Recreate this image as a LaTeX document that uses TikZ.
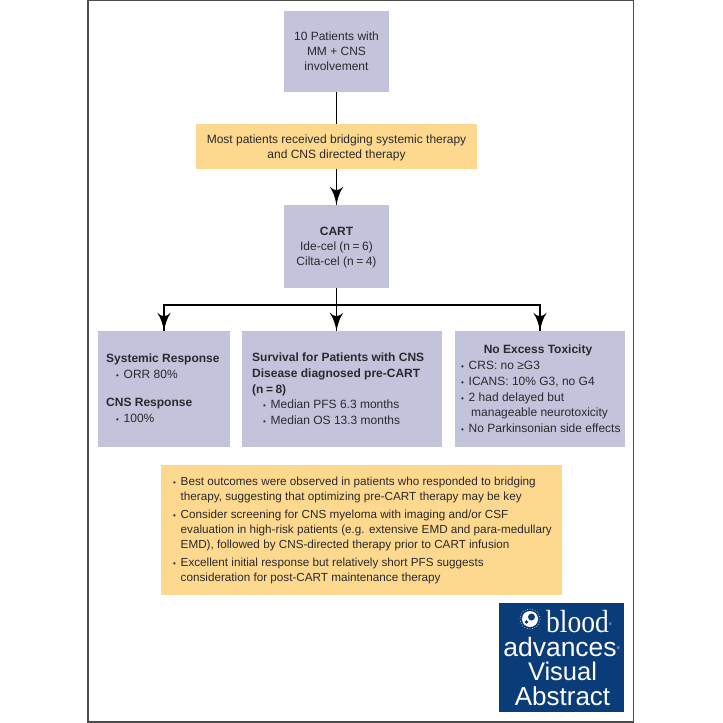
\documentclass[tikz,border=0pt]{standalone}
\usepackage{fontspec}
\setmainfont{Liberation Sans}
\newfontfamily\logoserif{Liberation Serif}
\usetikzlibrary{arrows}
\usetikzlibrary{decorations.markings}
\tikzset{->/.style = {decoration={markings,
                                  mark=at position 1 with {\arrow[scale=2.2]{latex'}}},
                      postaction={decorate}}}
\tikzset{lilacbox/.style = {fill=mblilac, text=mbtext, inner sep=0, align=center}}
\tikzset{goldbox/.style = {fill=mbgold, text=mbtext, inner sep=0, align=center}}
\tikzset{boxtext/.style = {text=mbtext, inner sep=0, align=left, anchor=north west}}
\tikzset{logotext/.style = {text=white, inner sep=0}}
\definecolor{mblilac}{rgb}{0.765, 0.769, 0.859}
\definecolor{mbgold}{rgb}{0.992, 0.851, 0.561}
\definecolor{mbtext}{rgb}{0.16, 0.16, 0.18}
\definecolor{mbblue}{rgb}{0.043, 0.235, 0.478}
\newcommand{\mbfont}{\fontsize{12}{15}\selectfont}
\newcommand{\bul}{\makebox[7.5pt][l]{\fontsize{8}{8}\selectfont\textbullet}}
\newcommand{\reg}{\raisebox{7pt}{\fontsize{4}{4}\selectfont\textregistered}}
\newcommand{\eqgap}{\hspace{2.5pt}=\hspace{2.5pt}}
\begin{document}
\begin{tikzpicture}[x=1pt, y=-1pt, font=\mbfont]
      \useasboundingbox (0, 0) rectangle (723, 723);
      \draw [line width=1.2, black!70] (88, 0.5) rectangle (633.5, 722);

      \node [lilacbox, minimum width=105, minimum height=81] (patients) at (336.5, 51.5)
        {10 Patients with\\MM + CNS\\involvement};
      \node [goldbox, minimum width=281, minimum height=45] (bridging) at (336.5, 146.5)
        {\rule{0pt}{11pt}Most patients received bridging systemic therapy\\and CNS directed therapy};
      \node [lilacbox, minimum width=105, minimum height=83] (cart) at (336.5, 246.5)
        {\rule{0pt}{10pt}\textbf{CART}\\Ide-cel (n\eqgap 6)\\Cilta-cel (n\eqgap 4)};

      \node [lilacbox, minimum width=132, minimum height=116] (systemic) at (164, 389) {};
      \node [lilacbox, minimum width=200, minimum height=116] (survival) at (342, 389) {};
      \node [lilacbox, minimum width=170, minimum height=116] (toxicity) at (540, 389) {};
      \node [goldbox, minimum width=401, minimum height=130] (outcomes) at (361.5, 530) {};
      \node [fill=mbblue, minimum width=125, minimum height=109, inner sep=0] (logo) at (561.5, 657.5) {};

      \draw [line width=1.8] (patients) -- (bridging);
      \draw [line width=1.8, ->] (bridging) -- (cart);

      \coordinate (split) at (cart.south |- 0, 305);
      \draw [line width=1.8] (cart) -- (split);
      \draw [line width=1.8, ->] (split) -- (split |- survival.north);
      \draw [line width=1.8, ->] (split) -| (systemic);
      \draw [line width=1.8, ->] (split) -| (toxicity);

      \node [boxtext, font=\fontsize{12}{16}\selectfont] (systemictext) at (106, 354)
        {\textbf{Systemic Response}\\
         \hspace{10pt}\bul ORR 80\%\\[12pt]
         \textbf{CNS Response}\\
         \hspace{10pt}\bul 100\%};
      \node [boxtext, font=\fontsize{12}{15.6}\selectfont] (survivaltext) at (252, 353)
        {\textbf{Survival for Patients with CNS}\\
         \textbf{Disease diagnosed pre-CART}\\
         \textbf{(n\eqgap 8)}\\
         \hspace{11pt}\bul Median PFS 6.3 months\\
         \hspace{11pt}\bul Median OS 13.3 months};
      \node [text=mbtext, inner sep=0] (toxicityhead) at (538, 350) {\textbf{No Excess Toxicity}};
      \node [boxtext, font=\fontsize{12}{15.8}\selectfont] (toxicitytext) at (461, 361)
        {\bul CRS: no ≥G3\\
         \bul ICANS: 10\% G3, no G4\\
         \bul 2 had delayed but\\
         \hspace{10pt}manageable neurotoxicity\\
         \bul No Parkinsonian side effects};
      \node [boxtext, font=\fontsize{11.7}{15.2}\selectfont] (outcomestext) at (173, 477)
        {\bul Best outcomes were observed in patients who responded to bridging\\
         \hspace{7.5pt}therapy, suggesting that optimizing pre-CART therapy may be key\\[2.5pt]
         \bul Consider screening for CNS myeloma with imaging and/or CSF\\
         \hspace{7.5pt}evaluation in high-risk patients (e.g. extensive EMD and para-medullary\\
         \hspace{7.5pt}EMD), followed by CNS-directed therapy prior to CART infusion\\[2.5pt]
         \bul Excellent initial response but relatively short PFS suggests\\
         \hspace{7.5pt}consideration for post-CART maintenance therapy};

      \fill [white] (530, 619) circle [radius=8];
      \fill [mbblue] (531.5, 617) circle [radius=3.5];
      \fill [mbblue] (526.5, 622) circle [radius=1.8];
      \draw [white, line width=0.6, dotted] (530, 619) circle [radius=10];
      \node [logotext, font=\logoserif\fontsize{32}{32}\selectfont, anchor=base west] (blood) at (546, 632)
        {\scalebox{0.86}[1]{blood}\reg};
      \node [logotext, font=\fontsize{26.5}{26.5}\selectfont, anchor=base] (advances) at (561.5, 656)
        {advances\reg};
      \node [logotext, font=\fontsize{25.5}{25.5}\selectfont, anchor=base] (visual) at (562.5, 680) {Visual};
      \node [logotext, font=\fontsize{26}{26}\selectfont, anchor=base] (abstract) at (562.5, 705) {Abstract};
    \end{tikzpicture}
\end{document}
